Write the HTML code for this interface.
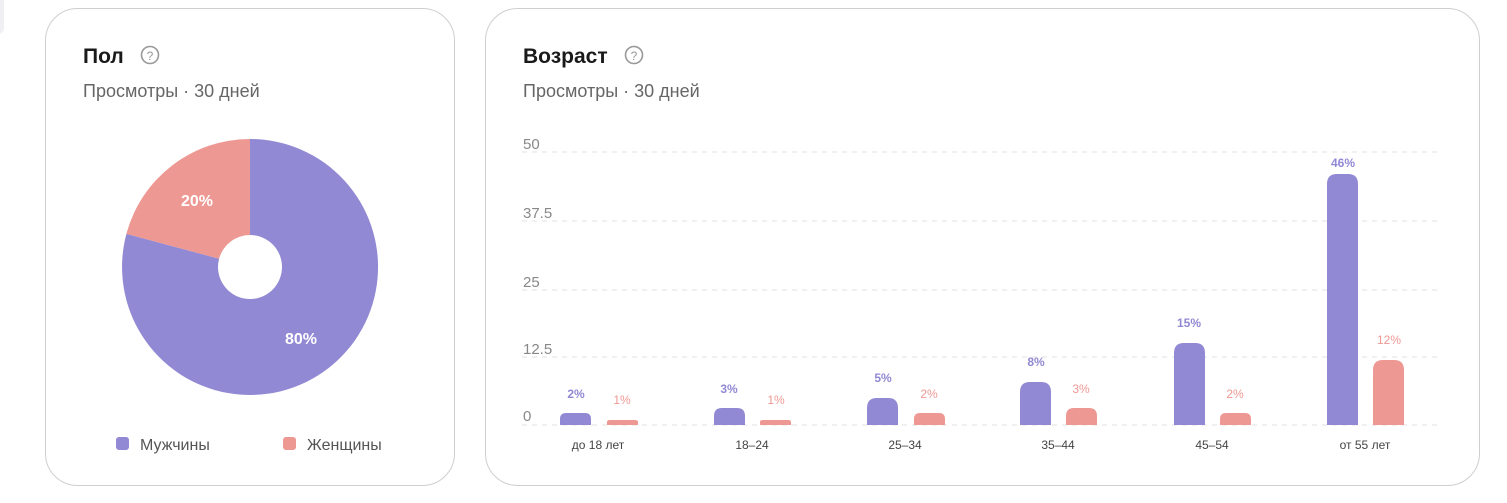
<!DOCTYPE html>
<html><head><meta charset="utf-8"><style>
html,body{margin:0;padding:0;background:#fff;width:1507px;height:503px;overflow:hidden;font-family:"Liberation Sans","DejaVu Sans",sans-serif;}
</style></head><body>
<svg width="1507" height="503" xmlns="http://www.w3.org/2000/svg" font-family="Liberation Sans, DejaVu Sans, sans-serif">
<rect x="-10" y="-10" width="14" height="44" rx="6" fill="#f0f0f2"/>
<rect x="45.5" y="8.5" width="409" height="477" rx="32" fill="#fff" stroke="#cfcfcf"/>
<rect x="485.5" y="8.5" width="994" height="477" rx="32" fill="#fff" stroke="#cfcfcf"/>
<!-- card 1 -->
<text x="83" y="63" font-size="21" font-weight="bold" fill="#1a1a1a">Пол</text>
<circle cx="150" cy="55" r="8.5" fill="none" stroke="#999" stroke-width="1.6"/>
<text x="150" y="60" font-size="12" fill="#999" text-anchor="middle">?</text>
<text x="83" y="97" font-size="18" fill="#666">Просмотры · 30 дней</text>
<path d="M250,139 A128,128 0 1 1 126.4,233.9 L219.1,258.7 A32,32 0 1 0 250,235 Z" fill="#9189d3"/>
<path d="M126.4,233.9 A128,128 0 0 1 250,139 L250,235 A32,32 0 0 0 219.1,258.7 Z" fill="#ee9893"/>
<text x="197" y="206" font-size="16" font-weight="bold" fill="#fff" text-anchor="middle">20%</text>
<text x="301" y="344" font-size="16" font-weight="bold" fill="#fff" text-anchor="middle">80%</text>
<rect x="116" y="437" width="13" height="13" rx="3" fill="#9189d3"/>
<text x="140" y="450" font-size="16" fill="#555">Мужчины</text>
<rect x="283" y="437" width="13" height="13" rx="3" fill="#ee9893"/>
<text x="307" y="450" font-size="16" fill="#555">Женщины</text>
<!-- card 2 -->
<text x="523" y="63" font-size="21" font-weight="bold" fill="#1a1a1a">Возраст</text>
<circle cx="634" cy="55" r="8.5" fill="none" stroke="#999" stroke-width="1.6"/>
<text x="634" y="60" font-size="12" fill="#999" text-anchor="middle">?</text>
<text x="523" y="97" font-size="18" fill="#666">Просмотры · 30 дней</text>
<g stroke="#ebebeb" stroke-width="1.5" stroke-dasharray="5,5">
<line x1="522" y1="152" x2="1442" y2="152"/>
<line x1="522" y1="221" x2="1442" y2="221"/>
<line x1="522" y1="290" x2="1442" y2="290"/>
<line x1="522" y1="357" x2="1442" y2="357"/>
<line x1="522" y1="425" x2="1442" y2="425"/>
</g>
<g font-size="15" fill="#888">
<text x="523" y="149">50</text>
<text x="523" y="218">37.5</text>
<text x="523" y="287">25</text>
<text x="523" y="354">12.5</text>
<text x="523" y="421">0</text>
</g>
<g font-size="12" fill="#444" text-anchor="middle">
<text x="598" y="449">до 18 лет</text>
<text x="752" y="449">18–24</text>
<text x="905" y="449">25–34</text>
<text x="1058" y="449">35–44</text>
<text x="1212" y="449">45–54</text>
<text x="1365" y="449">от 55 лет</text>
</g>
<g fill="#9189d3">
<path d="M560,425 V419 Q560,413 566,413 H585 Q591,413 591,419 V425 Z"/>
<path d="M714,425 V416 Q714,408 722,408 H737 Q745,408 745,416 V425 Z"/>
<path d="M867,425 V408 Q867,398 877,398 H888 Q898,398 898,408 V425 Z"/>
<path d="M1020,425 V392 Q1020,382 1030,382 H1041 Q1051,382 1051,392 V425 Z"/>
<path d="M1174,425 V353 Q1174,343 1184,343 H1195 Q1205,343 1205,353 V425 Z"/>
<path d="M1327,425 V184 Q1327,174 1337,174 H1348 Q1358,174 1358,184 V425 Z"/>
</g>
<g fill="#ee9893">
<path d="M607,425 V422 Q607,420 610,420 H635 Q638,420 638,422 V425 Z"/>
<path d="M760,425 V422 Q760,420 763,420 H788 Q791,420 791,422 V425 Z"/>
<path d="M914,425 V419 Q914,413 920,413 H939 Q945,413 945,419 V425 Z"/>
<path d="M1066,425 V416 Q1066,408 1074,408 H1089 Q1097,408 1097,416 V425 Z"/>
<path d="M1220,425 V419 Q1220,413 1226,413 H1245 Q1251,413 1251,419 V425 Z"/>
<path d="M1373,425 V370 Q1373,360 1383,360 H1394 Q1404,360 1404,370 V425 Z"/>
</g>
<g font-size="12" font-weight="bold" fill="#9189d3" text-anchor="middle">
<text x="576" y="398">2%</text>
<text x="729" y="393">3%</text>
<text x="883" y="382">5%</text>
<text x="1036" y="366">8%</text>
<text x="1189" y="327">15%</text>
<text x="1343" y="167">46%</text>
</g>
<g font-size="12" fill="#ee9893" text-anchor="middle">
<text x="622" y="404">1%</text>
<text x="776" y="404">1%</text>
<text x="929" y="398">2%</text>
<text x="1081" y="393">3%</text>
<text x="1235" y="398">2%</text>
<text x="1389" y="344">12%</text>
</g>
</svg>
</body></html>
